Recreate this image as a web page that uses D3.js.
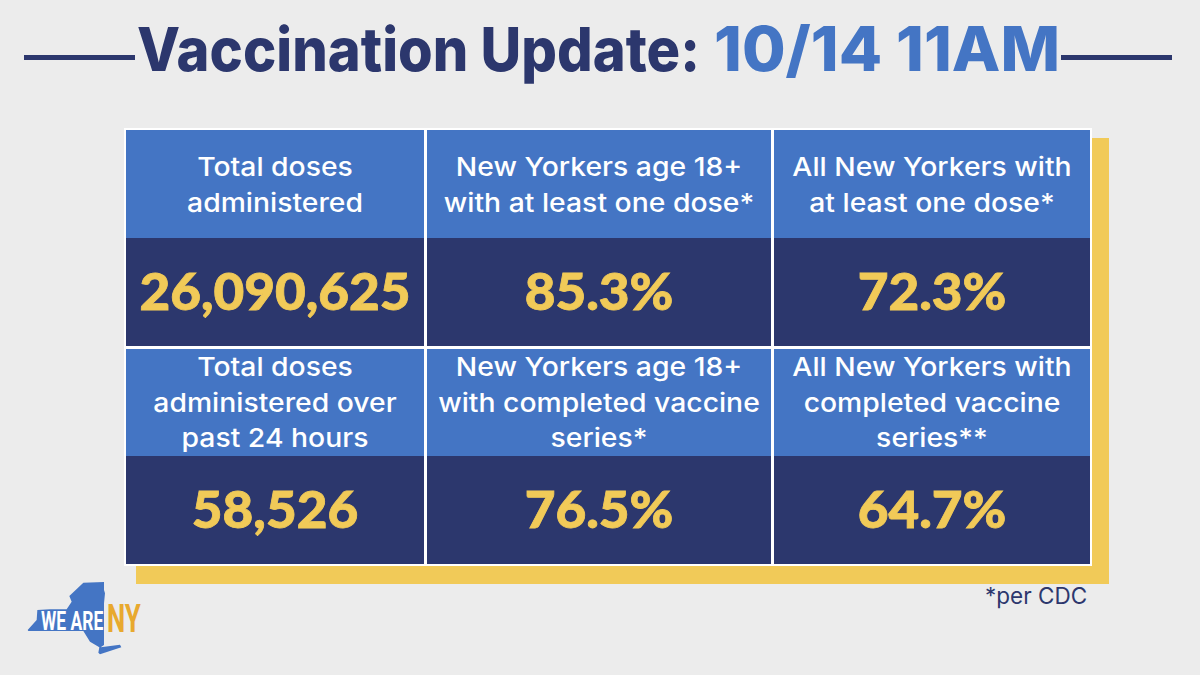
<!DOCTYPE html>
<html><head><meta charset="utf-8">
<script src="https://cdn.jsdelivr.net/npm/d3@7"></script>
<style>html,body{margin:0;padding:0;background:#ececec}svg{display:block}</style>
</head><body><svg id="c" width="1200" height="675"></svg>
<script>
const titleMain = "Vaccination Update:";
const titleDate = "10/14 11AM";
const headers = [
  ["Total doses","administered"],
  ["New Yorkers age 18+","with at least one dose*"],
  ["All New Yorkers with","at least one dose*"],
  ["Total doses","administered over","past 24 hours"],
  ["New Yorkers age 18+","with completed vaccine","series*"],
  ["All New Yorkers with","completed vaccine","series**"]
];
const values = ["26,090,625","85.3%","72.3%","58,526","76.5%","64.7%"];
const footnote = "*per CDC";

const NAVY="#2c376d", BLUE="#4475c4", YEL="#f1ca58", WHITE="#ffffff";
const FONT="Inter, 'Open Sans', sans-serif";
const svg=d3.select("#c");
svg.append("rect").attr("width",1200).attr("height",675).attr("fill","#ececec");

[[24,135],[1061,1172]].forEach(([a,b])=>svg.append("rect").attr("x",a).attr("y",55).attr("width",b-a).attr("height",5).attr("fill",NAVY));
svg.append("text").attr("x",137).attr("y",71).attr("font-family",FONT).attr("font-weight",800)
  .attr("font-size",60).attr("fill",NAVY).attr("textLength",563).attr("lengthAdjust","spacingAndGlyphs").text(titleMain);
svg.append("text").attr("x",714).attr("y",71).attr("font-family",FONT).attr("font-weight",800)
  .attr("font-size",62).attr("fill",BLUE).attr("textLength",346).attr("lengthAdjust","spacingAndGlyphs").text(titleDate);

svg.append("rect").attr("x",136).attr("y",138).attr("width",973).attr("height",446).attr("fill",YEL);
svg.append("rect").attr("x",124).attr("y",128).attr("width",968).attr("height",438).attr("fill",WHITE);

const colEdges=[[126,424],[427,771],[774,1090]];
const rowEdges=[[130,238,346],[349,456,564]];
const cells=values.map((v,i)=>({v,h:headers[i],c:i%3,r:Math.floor(i/3)}));
const g=svg.selectAll("g.cell").data(cells).join("g").attr("class","cell");
g.append("rect").attr("x",d=>colEdges[d.c][0]).attr("y",d=>rowEdges[d.r][0])
  .attr("width",d=>colEdges[d.c][1]-colEdges[d.c][0]).attr("height",d=>rowEdges[d.r][1]-rowEdges[d.r][0]).attr("fill",BLUE);
g.append("rect").attr("x",d=>colEdges[d.c][0]).attr("y",d=>rowEdges[d.r][1])
  .attr("width",d=>colEdges[d.c][1]-colEdges[d.c][0]).attr("height",d=>rowEdges[d.r][2]-rowEdges[d.r][1]).attr("fill",NAVY);
const cx=d=>(colEdges[d.c][0]+colEdges[d.c][1])/2;
g.each(function(d){
  const n=d3.select(this);
  const first=d.r===0?176:376;
  d.h.forEach((line,i)=>n.append("text").attr("transform",`translate(${cx(d)},${first+i*35.5}) scale(1.09,1)`).attr("text-anchor","middle")
    .attr("font-family",FONT).attr("font-weight",500).attr("font-size",26).attr("fill",WHITE).text(line));
  n.append("text").attr("transform",`translate(${cx(d)},${rowEdges[d.r][1]+72}) scale(1.05,1)`).attr("text-anchor","middle")
    .attr("font-family","Lato, sans-serif").attr("font-weight",900).attr("font-size",50.5).attr("stroke",YEL).attr("stroke-width",0.8).attr("fill",YEL).text(d.v);
});

svg.append("text").attr("x",985).attr("y",604).attr("font-family",FONT).attr("font-weight",400)
  .attr("font-size",22.5).attr("fill",NAVY).text(footnote);

const ny=[[83,210],[110,180],[112,150],[150,148],[200,148],[215,125],[208,108],[250,68],[312,66],[312,90],[315,100],[312,130],[312,255],[302,262],[360,254],[364,262],[300,283],[295,278],[298,262],[270,245],[250,213],[85,213]];
svg.append("path").attr("d",d3.line().x(d=>d[0]/3).y(d=>560+d[1]/3)(ny)+"Z").attr("fill",BLUE);
const LOGO="'Liberation Sans Narrow','Roboto',sans-serif";
svg.append("text").attr("transform","translate(41,630) scale(.7,1)").attr("font-family",LOGO).attr("font-weight",700)
  .attr("font-size",25).attr("fill",WHITE).text("WE ARE");
svg.append("text").attr("transform","translate(107,632) scale(.66,1)").attr("font-family",LOGO).attr("font-weight",700)
  .attr("font-size",39).attr("fill","#e8a92e").text("NY");
</script></body></html>
